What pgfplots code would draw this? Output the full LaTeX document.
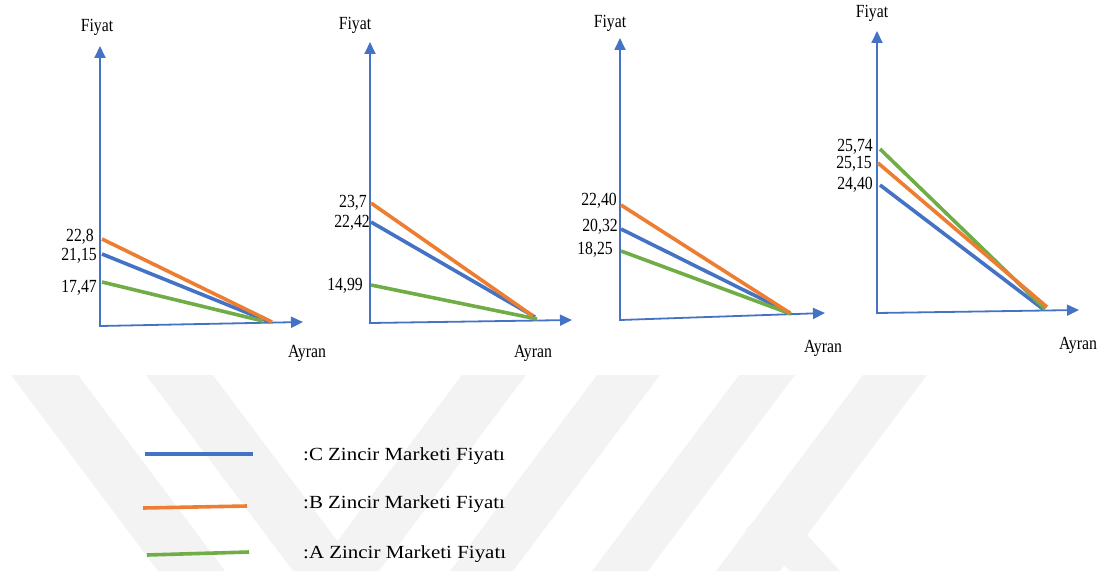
\documentclass[border=0pt]{standalone}
\usepackage{fontspec}
\setmainfont{Liberation Serif}
\newfontfamily\lab[FakeStretch=0.85]{Liberation Serif}
\newfontfamily\leg[FakeStretch=1.13]{Liberation Serif}
\usepackage{pgfplots}
\pgfplotsset{compat=1.18}
\usetikzlibrary{arrows.meta}
\definecolor{cB}{HTML}{4472C4}
\definecolor{cO}{HTML}{ED7D31}
\definecolor{cG}{HTML}{70AD47}
\definecolor{wm}{HTML}{F3F3F3}
\tikzset{lb/.style={font=\fontsize{18.6}{20}\lab,inner sep=1bp},
  lg/.style={font=\fontsize{18.6}{20}\leg,inner sep=1bp,anchor=west}}
\begin{document}
\begin{tikzpicture}
\begin{axis}[width=1108bp,height=571bp,scale only axis,
  xmin=0,xmax=1108,ymin=0,ymax=571,y dir=reverse,
  hide axis,clip=false,
  axisline/.style={cB,line width=1.8bp,no marks,{Triangle[length=12bp,width=11bp]}-{Triangle[length=12bp,width=11bp]}},
  dl/.style={line width=3.6bp,no marks}]
% frame of the picture
\addplot[draw=none] coordinates {(0,0) (1108,571)};
% watermark
\addplot[fill=wm,draw=none] coordinates {(11,375) (78,375) (225,571) (158,571)} -- cycle;
\addplot[fill=wm,draw=none] coordinates {(146,375) (213,375) (360,571) (293,571)} -- cycle;
\addplot[fill=wm,draw=none] coordinates {(462,375) (526,375) (379,571) (315,571)} -- cycle;
\addplot[fill=wm,draw=none] coordinates {(597,375) (660,375) (513,571) (450,571)} -- cycle;
\addplot[fill=wm,draw=none] coordinates {(739,375) (795,375) (648,571) (592,571)} -- cycle;
\addplot[fill=wm,draw=none] coordinates {(863,375) (927,375) (780,571) (716,571)} -- cycle;
\addplot[fill=wm,draw=none] coordinates {(745,530) (775,500) (840,571) (790,571)} -- cycle;
% panel 1
\addplot[axisline] coordinates {(100,46) (100,326) (303,322)};
\addplot[cB,dl] coordinates {(102,254) (270,322)};
\addplot[cG,dl] coordinates {(102,282) (263,321)};
\addplot[cO,dl] coordinates {(102,239) (272,322)};
\node[lb] at (axis cs:97,27) {Fiyat};
\node[lb] at (axis cs:307,353) {Ayran};
\node[lb,anchor=east] at (axis cs:95,237) {22,8};
\node[lb,anchor=east] at (axis cs:98,256) {21,15};
\node[lb,anchor=east] at (axis cs:98,288) {17,47};
% panel 2
\addplot[axisline] coordinates {(370,42) (370,323) (572,320)};
\addplot[cB,dl] coordinates {(371,222) (535,317)};
\addplot[cG,dl] coordinates {(371,285) (537,319)};
\addplot[cO,dl] coordinates {(371,203) (533,316)};
\node[lb] at (axis cs:355,25) {Fiyat};
\node[lb] at (axis cs:533,353) {Ayran};
\node[lb,anchor=east] at (axis cs:368,203) {23,7};
\node[lb,anchor=east] at (axis cs:371,223) {22,42};
\node[lb,anchor=east] at (axis cs:364,286) {14,99};
% panel 3
\addplot[axisline] coordinates {(620,38) (620,320) (825,313)};
\addplot[cB,dl] coordinates {(621,229) (790,313)};
\addplot[cG,dl] coordinates {(621,251) (791,314)};
\addplot[cO,dl] coordinates {(621,205) (790,313)};
\node[lb] at (axis cs:610,23) {Fiyat};
\node[lb] at (axis cs:823,348) {Ayran};
\node[lb,anchor=east] at (axis cs:618,201) {22,40};
\node[lb,anchor=east] at (axis cs:619,227) {20,32};
\node[lb,anchor=east] at (axis cs:614,250) {18,25};
% panel 4
\addplot[axisline] coordinates {(877,31) (877,313) (1079,310)};
\addplot[cB,dl] coordinates {(880,185) (1043,309)};
\addplot[cG,dl] coordinates {(880,149) (1045,309)};
\addplot[cO,dl] coordinates {(878,163) (1047,307)};
\node[lb] at (axis cs:872,13) {Fiyat};
\node[lb] at (axis cs:1078,345) {Ayran};
\node[lb,anchor=east] at (axis cs:874,147) {25,74};
\node[lb,anchor=east] at (axis cs:873,164) {25,15};
\node[lb,anchor=east] at (axis cs:874,185) {24,40};
% legend
\addplot[cB,dl] coordinates {(145,454) (253,454)};
\addplot[cO,dl] coordinates {(143,508) (247,506)};
\addplot[cG,dl] coordinates {(147,555) (249,552)};
\node[lg] at (axis cs:302,456) {:C Zincir Marketi Fiyatı};
\node[lg] at (axis cs:302,504) {:B Zincir Marketi Fiyatı};
\node[lg] at (axis cs:302,554) {:A Zincir Marketi Fiyatı};
\end{axis}
\end{tikzpicture}
\end{document}
